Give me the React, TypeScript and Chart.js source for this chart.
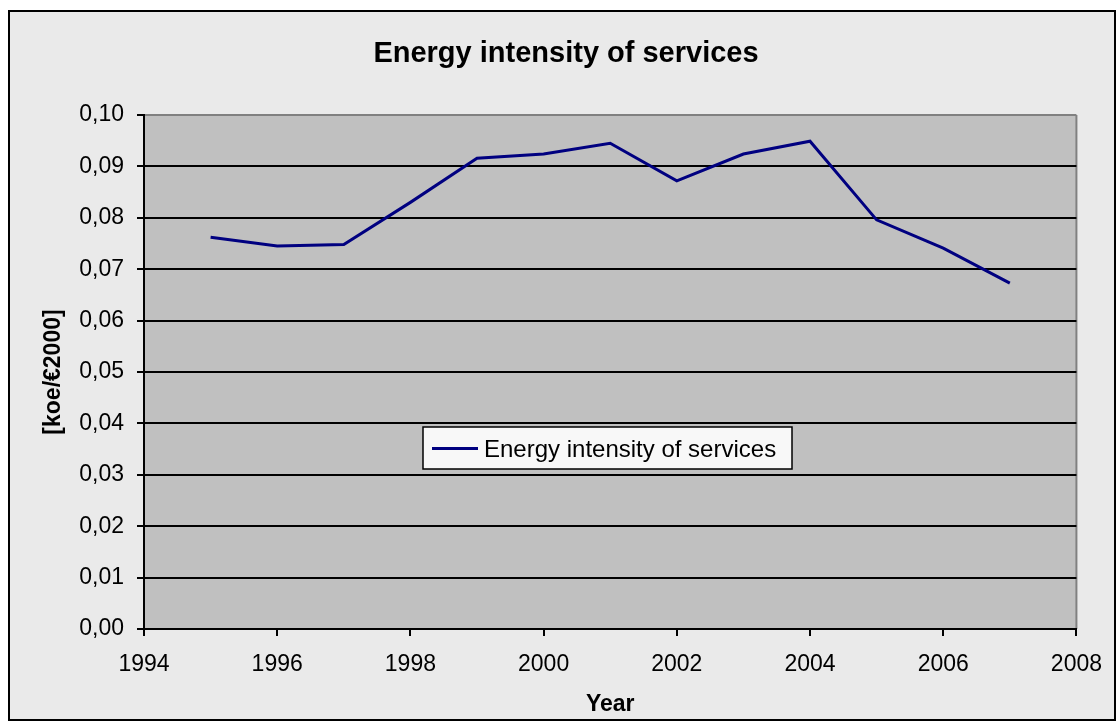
import React, { useEffect, useRef } from "react";
import { Chart, registerables } from "chart.js";

Chart.register(...registerables);

const chartTitle = "Energy intensity of services";
const seriesLabel = "Energy intensity of services";
const xAxisTitle = "Year";
const yAxisTitle = "[koe/€2000]";

const years = [1995, 1996, 1997, 1998, 1999, 2000, 2001, 2002, 2003, 2004, 2005, 2006, 2007];
const intensity = [0.0762, 0.0745, 0.0748, 0.083, 0.0916, 0.0924, 0.0945, 0.0872, 0.0924, 0.0949, 0.0796, 0.0741, 0.0673];

const xMin = 1994;
const xMax = 2008;
const xStep = 2;
const yMin = 0;
const yMax = 0.1;
const yStep = 0.01;

const FONT = "'Liberation Sans', Arial, sans-serif";

const framePlugin = {
  id: "framePlugin",
  beforeDraw(chart: any) {
    const { ctx, chartArea } = chart;
    const W = chart.width;
    const H = chart.height;
    ctx.save();
    ctx.fillStyle = "#ffffff";
    ctx.fillRect(0, 0, W, H);
    ctx.fillStyle = "#EAEAEA";
    ctx.fillRect(9, 11, 1106, 709);
    ctx.strokeStyle = "#000000";
    ctx.lineWidth = 2;
    ctx.strokeRect(9, 11, 1106, 709);
    // plot area
    ctx.fillStyle = "#C0C0C0";
    ctx.fillRect(chartArea.left, chartArea.top, chartArea.right - chartArea.left, chartArea.bottom - chartArea.top);
    ctx.strokeStyle = "#808080";
    ctx.lineWidth = 2;
    ctx.beginPath();
    ctx.moveTo(chartArea.right, chartArea.top);
    ctx.lineTo(chartArea.right, chartArea.bottom);
    ctx.stroke();
    // title
    ctx.fillStyle = "#000000";
    ctx.font = "bold 29px " + FONT;
    ctx.textAlign = "center";
    ctx.textBaseline = "alphabetic";
    ctx.fillText(chartTitle, 566, 62);
    ctx.restore();
  },
  afterDraw(chart: any) {
    const { ctx } = chart;
    ctx.save();
    // legend box
    ctx.fillStyle = "#F8F8F8";
    ctx.fillRect(423, 427, 369, 42);
    ctx.strokeStyle = "#000000";
    ctx.lineWidth = 1.5;
    ctx.strokeRect(423, 427, 369, 42);
    ctx.strokeStyle = "#000080";
    ctx.lineWidth = 3;
    ctx.beginPath();
    ctx.moveTo(432, 448.5);
    ctx.lineTo(478, 448.5);
    ctx.stroke();
    ctx.fillStyle = "#000000";
    ctx.font = "24px " + FONT;
    ctx.textAlign = "left";
    ctx.textBaseline = "alphabetic";
    ctx.fillText(seriesLabel, 484, 457);
    ctx.restore();
  },
};

export default function App() {
  const canvasRef = useRef<HTMLCanvasElement | null>(null);

  useEffect(() => {
    const canvas = canvasRef.current;
    if (!canvas) return;
    const chart = new Chart(canvas, {
      type: "line",
      data: {
        datasets: [
          {
            label: seriesLabel,
            data: years.map((y, i) => ({ x: y, y: intensity[i] })),
            borderColor: "#000080",
            backgroundColor: "#000080",
            borderWidth: 3,
            pointRadius: 0,
            tension: 0,
            fill: false,
          },
        ],
      },
      options: {
        responsive: false,
        animation: false,
        events: [],
        layout: { padding: { left: 0, top: 115, right: 40, bottom: 0 } },
        plugins: {
          legend: { display: false },
          title: { display: false },
          tooltip: { enabled: false },
        },
        scales: {
          x: {
            type: "linear",
            min: xMin,
            max: xMax,
            afterFit: (scale: any) => {
              scale.height = 93;
            },
            ticks: {
              stepSize: xStep,
              autoSkip: false,
              maxRotation: 0,
              padding: 15,
              color: "#000000",
              font: { family: FONT, size: 23 },
              callback: (v: any) => String(v),
            },
            grid: {
              drawOnChartArea: false,
              drawTicks: true,
              tickLength: 7,
              color: "#000000",
              tickColor: "#000000",
              lineWidth: 2,
            },
            border: { display: true, color: "#000000", width: 2 },
            title: {
              display: true,
              text: xAxisTitle,
              color: "#000000",
              font: { family: FONT, size: 23, weight: "bold" },
              padding: { top: 0, bottom: 4 },
            },
          },
          y: {
            type: "linear",
            min: yMin,
            max: yMax,
            afterFit: (scale: any) => {
              scale.width = 144;
            },
            ticks: {
              stepSize: yStep,
              autoSkip: false,
              padding: 13,
              color: "#000000",
              font: { family: FONT, size: 23 },
              callback: (v: any) => Number(v).toFixed(2).replace(".", ","),
            },
            grid: {
              drawOnChartArea: true,
              drawTicks: true,
              tickLength: 7,
              lineWidth: 2,
              color: (c: any) => (c.tick && c.tick.value >= yMax - 1e-9 ? "#808080" : "#000000"),
              tickColor: "#000000",
            },
            border: { display: true, color: "#000000", width: 2 },
            title: {
              display: true,
              text: yAxisTitle,
              color: "#000000",
              font: { family: FONT, size: 23, weight: "bold" },
              padding: { top: 40, bottom: 0 },
            },
          },
        },
      },
      plugins: [framePlugin],
    });
    return () => chart.destroy();
  }, []);

  return (
    <div style={{ position: "fixed", left: 0, top: 0, width: 1117, height: 722 }}>
      <canvas ref={canvasRef} width={1117} height={722} style={{ width: 1117, height: 722, display: "block" }} />
    </div>
  );
}
